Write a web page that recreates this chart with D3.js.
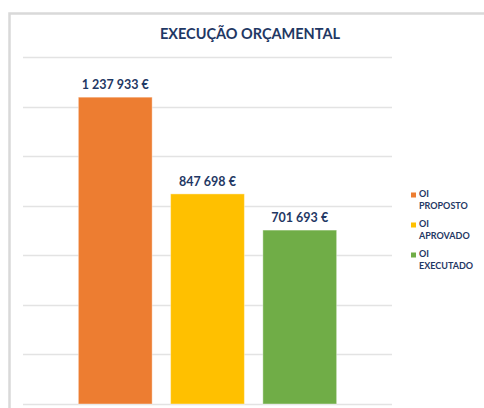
<!DOCTYPE html>
<html>
<head>
<meta charset="utf-8">
<script src="https://cdn.jsdelivr.net/npm/d3@7"></script>
<style>
  body { margin: 0; background: #ffffff; }
  svg { display: block; font-family: "Lato", "Open Sans", sans-serif; }
</style>
</head>
<body>
<div id="graph"></div>
<script>
// chart data
var series = ["OI PROPOSTO", "OI APROVADO", "OI EXECUTADO"];
var values = [1237933, 847698, 701693];
var colours = ["#ED7D31", "#FFC000", "#70AD47"];
var legendLines = [["OI", "PROPOSTO"], ["OI", "APROVADO"], ["OI", "EXECUTADO"]];
var gridTicks = [0, 200000, 400000, 600000, 800000, 1000000, 1200000, 1400000];

var width = 484;
var height = 408;
var textColour = "#1F3864";

var svg = d3.select("#graph")
    .append("svg")
    .attr("width", width)
    .attr("height", height);

// chart frame (light grey border, cut by window)
svg.append("path")
    .attr("d", "M9.5,420 L9.5,13.5 L490,13.5")
    .attr("fill", "none")
    .attr("stroke", "#d9d9d9")
    .attr("stroke-width", 2.5);

svg.append("text")
    .attr("x", 250)
    .attr("y", 39)
    .attr("text-anchor", "middle")
    .style("font-size", "14.5px")
    .style("font-weight", "bold")
    .attr("fill", textColour)
    .text("EXECUÇÃO ORÇAMENTAL");

var x = d3.scaleBand()
    .domain(series)
    .range([23, 392])
    .paddingInner(0.2)
    .paddingOuter(0.6);

var y = d3.scaleLinear()
    .domain([0, 1400000])
    .range([404, 57]);

// gridlines
svg.append("g")
    .selectAll("line")
    .data(gridTicks)
    .enter().append("line")
    .attr("x1", 23)
    .attr("x2", 392)
    .attr("y1", function(d) { return Math.round(y(d)) + 0.5; })
    .attr("y2", function(d) { return Math.round(y(d)) + 0.5; })
    .attr("stroke", "#e3e3e3")
    .attr("stroke-width", 1.5);

svg.append("g")
    .selectAll("rect")
    .data(values)
    .enter().append("rect")
    .attr("x", function(d, i) { return x(series[i]); })
    .attr("y", function(d) { return y(d); })
    .attr("width", x.bandwidth())
    .attr("height", function(d) { return y(0) - y(d); })
    .attr("fill", function(d, i) { return colours[i]; })
    .attr("stroke", "#ffffff")
    .attr("stroke-opacity", 0.4)
    .attr("stroke-width", 1);

var fmt = function(v) {
    return d3.format(",")(v).replace(/,/g, " ") + " €";
};

svg.append("g")
    .selectAll("text")
    .data(values)
    .enter().append("text")
    .attr("x", function(d, i) { return x(series[i]) + x.bandwidth() / 2; })
    .attr("y", function(d) { return y(d) - 8; })
    .attr("text-anchor", "middle")
    .style("font-size", "12.5px")
    .style("font-weight", "bold")
    .attr("fill", textColour)
    .text(fmt);

// legend
var legend = svg.append("g")
    .selectAll("g")
    .data(series)
    .enter().append("g")
    .attr("transform", function(d, i) { return "translate(411," + (191 + i * 30) + ")"; });

legend.append("rect")
    .attr("x", 0)
    .attr("y", 1.5)
    .attr("width", 5)
    .attr("height", 5)
    .attr("fill", function(d, i) { return colours[i]; });

legend.append("text")
    .attr("x", 8)
    .attr("y", 6)
    .style("font-size", "9px")
    .style("font-weight", "bold")
    .attr("fill", textColour)
    .text(function(d, i) { return legendLines[i][0]; });

legend.append("text")
    .attr("x", 8)
    .attr("y", 18)
    .style("font-size", "9px")
    .style("font-weight", "bold")
    .attr("fill", textColour)
    .text(function(d, i) { return legendLines[i][1]; });
</script>
</body>
</html>
